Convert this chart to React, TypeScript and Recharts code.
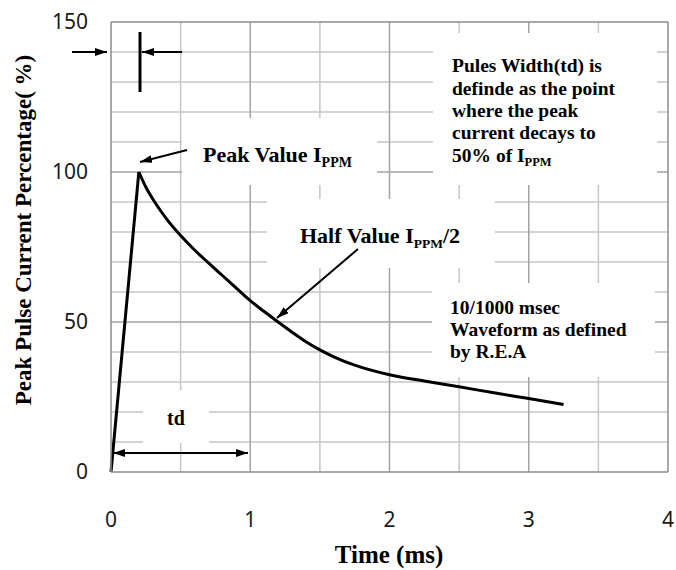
import React from 'react';
import {
  LineChart, Line, XAxis, YAxis, CartesianGrid, ReferenceLine
} from 'recharts';

// Waveform (time in ms, percent of peak current)
const riseTime = [0, 0.2];
const risePct = [0, 100];
const decayTime = [0.2, 0.25, 0.3, 0.35, 0.4, 0.5, 0.6, 0.7, 0.8, 0.9, 1.0, 1.1, 1.2, 1.3, 1.4, 1.5, 1.6, 1.75, 2.0, 2.25, 2.5, 2.75, 3.0, 3.25];
const decayPct = [100, 95, 91, 87.5, 84.3, 78.8, 74, 69.7, 65.5, 61.3, 57.1, 53.5, 50, 46.6, 43.4, 40.7, 38.4, 35.6, 32.4, 30.3, 28.4, 26.4, 24.5, 22.5];

const xTicks = [0, 1, 2, 3, 4];
const yTicks = [0, 50, 100, 150];
const xMinor = [0.5, 1.5, 2.5, 3.5];
const xMajor = [1, 2, 3];
const yMinor = [10, 20, 30, 40, 60, 70, 80, 90, 110, 120, 130, 140];
const yMajor = [50, 100];

const rise = riseTime.map((t, i) => ({ t, v: risePct[i] }));
const decay = decayTime.map((t, i) => ({ t, v: decayPct[i] }));

const W = 676;
const H = 570;
const SERIF = "'Liberation Serif', 'Times New Roman', serif";
const SANS = "'Noto Sans', 'Open Sans', sans-serif";

const tickStyle = { fontFamily: SANS, fontSize: 21, fill: '#1a1a1a' };
const serifBold = { fontFamily: SERIF, fontWeight: 700 };

const Overlay: React.FC = () => (
  <svg width={W} height={H} style={{ position: 'absolute', left: 0, top: 0, pointerEvents: 'none' }}>
    <defs>
      <marker id="ah" viewBox="0 0 12 8" refX="12" refY="4" markerWidth="12" markerHeight="8"
        markerUnits="userSpaceOnUse" orient="auto-start-reverse">
        <path d="M0,0 L12,4 L0,8 z" fill="#000" />
      </marker>
    </defs>
    {/* white label boxes over the grid */}
    <rect x={182} y={118} width={195} height={67} fill="#fff" />
    <rect x={433} y={33} width={224} height={152} fill="#fff" />
    <rect x={267} y={199} width={228} height={69} fill="#fff" />
    <rect x={432} y={283} width={223} height={94} fill="#fff" />
    <rect x={143} y={390} width={66} height={53} fill="#fff" />

    {/* pulse rise marker */}
    <line x1={72} y1={52} x2={107} y2={52} stroke="#000" strokeWidth={2} markerEnd="url(#ah)" />
    <line x1={140} y1={32} x2={140} y2={92} stroke="#000" strokeWidth={3} />
    <line x1={182} y1={52} x2={142} y2={52} stroke="#000" strokeWidth={2} markerEnd="url(#ah)" />

    <line x1={187} y1={150} x2={140} y2={162} stroke="#000" strokeWidth={2} markerEnd="url(#ah)" />
    <line x1={358} y1={249} x2={277} y2={318} stroke="#000" strokeWidth={2} markerEnd="url(#ah)" />
    <line x1={113} y1={453} x2={248} y2={453} stroke="#000" strokeWidth={2}
      markerStart="url(#ah)" markerEnd="url(#ah)" />

    <g style={serifBold} fill="#000">
      <text x={203} y={162} style={{ fontSize: 22 }}>
        Peak Value I<tspan style={{ fontSize: 14 }} dy={5}>PPM</tspan>
      </text>
      <text x={300} y={243} style={{ fontSize: 22 }}>
        Half Value I<tspan style={{ fontSize: 13.5 }} dy={5}>PPM</tspan><tspan dy={-5}>/2</tspan>
      </text>
      <g style={{ fontSize: 19.5 }}>
        <text x={452} y={72}>Pules Width(td) is</text>
        <text x={452} y={95}>definde as the point</text>
        <text x={452} y={117}>where the peak</text>
        <text x={452} y={139}>current decays to</text>
        <text x={452} y={162}>50% of I<tspan style={{ fontSize: 12.5 }} dy={4}>PPM</tspan></text>
        <text x={450} y={314}>10/1000 msec</text>
        <text x={450} y={336}>Waveform as defined</text>
        <text x={450} y={358}>by R.E.A</text>
      </g>
      <text x={176} y={425} style={{ fontSize: 20 }} textAnchor="middle">td</text>
    </g>
  </svg>
);

export default function App() {
  return (
    <div style={{ position: 'absolute', left: 0, top: 0, width: W, height: H, background: '#fff' }}>
      <LineChart width={W} height={H} margin={{ top: 22, right: 8, bottom: 0, left: 0 }}>
        <CartesianGrid stroke="#c6c6c6" strokeWidth={1.5} verticalValues={xMinor} horizontalValues={yMinor} />
        <CartesianGrid stroke="#a3a3a3" strokeWidth={1.5} verticalValues={xMajor} horizontalValues={yMajor} />
        <XAxis
          type="number"
          dataKey="t"
          domain={[0, 4]}
          ticks={xTicks}
          height={98}
          tickLine={false}
          tickSize={0}
          tickMargin={40}
          tick={tickStyle}
          axisLine={{ stroke: '#8c8c8c', strokeWidth: 1.5 }}
          allowDuplicatedCategory={false}
          label={{
            content: ({ viewBox }: any) => (
              <text x={viewBox.x + viewBox.width * 0.5 - 0.5} y={563} textAnchor="middle"
                style={{ ...serifBold, fontSize: 25 }} fill="#000">
                Time (ms)
              </text>
            ),
          }}
        />
        <YAxis
          type="number"
          domain={[0, 150]}
          ticks={yTicks}
          width={111}
          tickLine={false}
          tickSize={0}
          tickMargin={23}
          tick={tickStyle}
          axisLine={{ stroke: '#8c8c8c', strokeWidth: 1.5 }}
          label={{
            content: () => (
              <text x={31} y={230} textAnchor="middle" transform="rotate(-90 31 230)"
                style={{ ...serifBold, fontSize: 23 }} fill="#000">
                Peak Pulse Current Percentage( %)
              </text>
            ),
          }}
        />
        <ReferenceLine y={150} stroke="#8c8c8c" strokeWidth={1.5} />
        <ReferenceLine x={4} stroke="#8c8c8c" strokeWidth={1.5} />
        <Line
          data={rise}
          type="linear"
          dataKey="v"
          stroke="#000"
          strokeWidth={3}
          dot={false}
          isAnimationActive={false}
        />
        <Line
          data={decay}
          type="monotone"
          dataKey="v"
          stroke="#000"
          strokeWidth={3}
          dot={false}
          isAnimationActive={false}
        />
      </LineChart>
      <Overlay />
    </div>
  );
}
